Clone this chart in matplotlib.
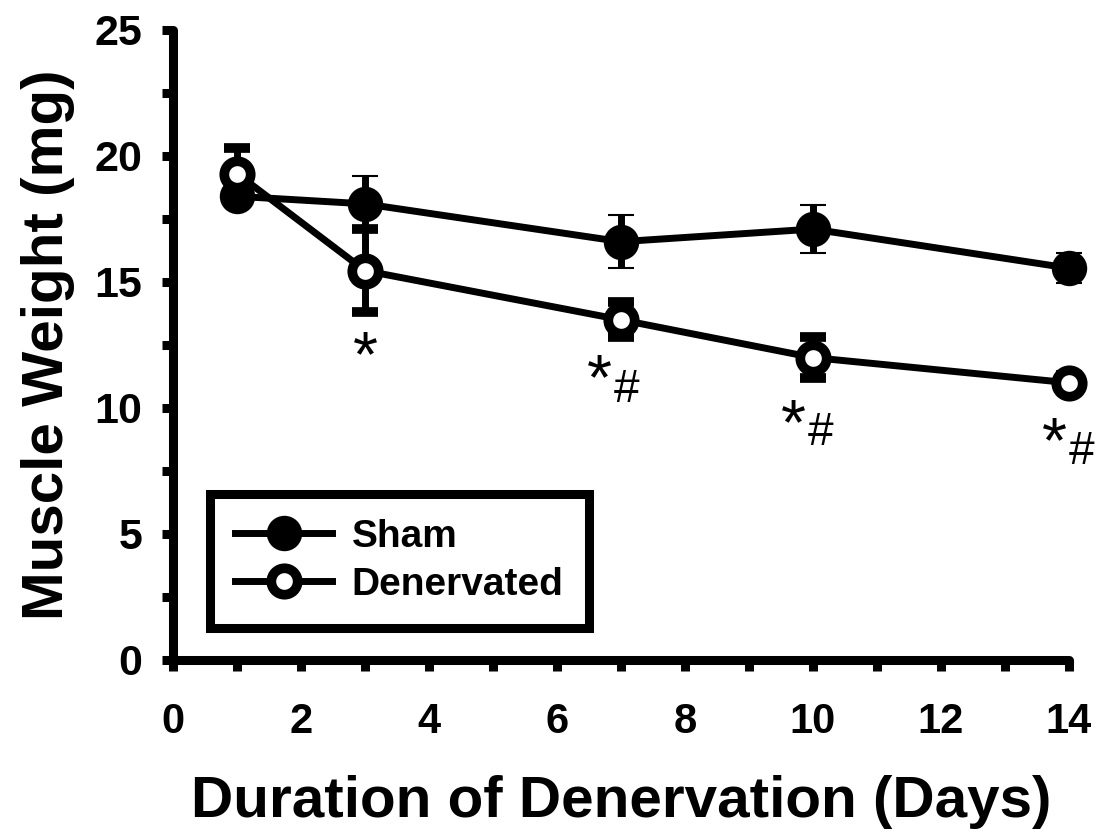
import matplotlib
matplotlib.use("Agg")
import matplotlib.pyplot as plt
from matplotlib.lines import Line2D
from matplotlib.ticker import MultipleLocator

plt.rcParams['font.family'] = ['Liberation Sans', 'DejaVu Sans']

# data
days = [1, 3, 7, 10, 14]
sham_mean = [18.4, 18.1, 16.6, 17.1, 15.55]
sham_err = [0.4, 1.1, 1.05, 0.95, 0.6]
den_mean = [19.3, 15.45, 13.5, 12.0, 11.0]
den_err = [1.0, 1.65, 0.7, 0.8, 0.3]

# significance marks below the denervated points
star_x = [3.0, 6.67, 9.69, 13.78]
star_y = [12.45, 11.55, 9.75, 9.05]
hash_x = [7.08, 10.12, 14.2]
hash_y = [10.7, 9.0, 8.25]

fig = plt.figure(figsize=(11, 8.33), dpi=100)
ax = fig.add_axes([0.1573, 0.2077, 0.8145, 0.7563])

lw = 5
sham_style = dict(color='black', lw=lw, marker='o', ms=24, mfc='black',
                  mec='black', mew=1.5)
den_style = dict(color='black', lw=lw, marker='o', ms=19, mfc='white',
                 mec='black', mew=7)

ax.errorbar(days, sham_mean, yerr=sham_err, capsize=9.5, capthick=4.8,
            elinewidth=lw, zorder=3, clip_on=False, **sham_style)
ax.errorbar(days, den_mean, yerr=den_err, capsize=9.5, capthick=4.8,
            elinewidth=lw, zorder=4, clip_on=False, **den_style)

for x, y in zip(star_x, star_y):
    # glyph of '*' sits high in its box, push it down a bit
    ax.annotate("*", (x, y), xytext=(0, -9.5), textcoords='offset points',
                ha='center', va='center', fontsize=46, fontweight='normal')
for x, y in zip(hash_x, hash_y):
    ax.text(x, y, "#", ha='center', va='center', fontsize=33,
            fontweight='normal')

ax.set_xlim(0, 14)
ax.set_ylim(0, 25)
ax.xaxis.set_major_locator(MultipleLocator(2))
ax.xaxis.set_minor_locator(MultipleLocator(1))
ax.yaxis.set_major_locator(MultipleLocator(5))
ax.yaxis.set_minor_locator(MultipleLocator(2.5))

for side in ['top', 'right']:
    ax.spines[side].set_visible(False)
for side in ['left', 'bottom']:
    ax.spines[side].set_linewidth(6.5)
    ax.spines[side].set_capstyle('round')

ax.tick_params(which='both', direction='out', length=8, width=6.5)
ax.tick_params(axis='x', labelsize=30, pad=22)
ax.tick_params(axis='y', labelsize=31, pad=14)
for lab in ax.get_xticklabels() + ax.get_yticklabels():
    lab.set_fontweight('bold')

ax.set_xlabel("Duration of Denervation (Days)", fontsize=42, fontweight='bold', labelpad=24)
ax.set_ylabel("Muscle Weight (mg)", fontsize=42, fontweight='bold', labelpad=14)

handles = [Line2D([], [], **sham_style), Line2D([], [], **den_style)]
leg = ax.legend(handles, ['Sham', 'Denervated'], loc='lower left',
                bbox_to_anchor=(0.041, 0.051),
                prop={'weight': 'bold', 'size': 28},
                frameon=True, fancybox=False, edgecolor='black', framealpha=1,
                handlelength=2.5, borderpad=0.65, labelspacing=0.3,
                handletextpad=0.5, borderaxespad=0)
leg.get_frame().set_linewidth(6.5)

fig.savefig("out.png", dpi=100)
